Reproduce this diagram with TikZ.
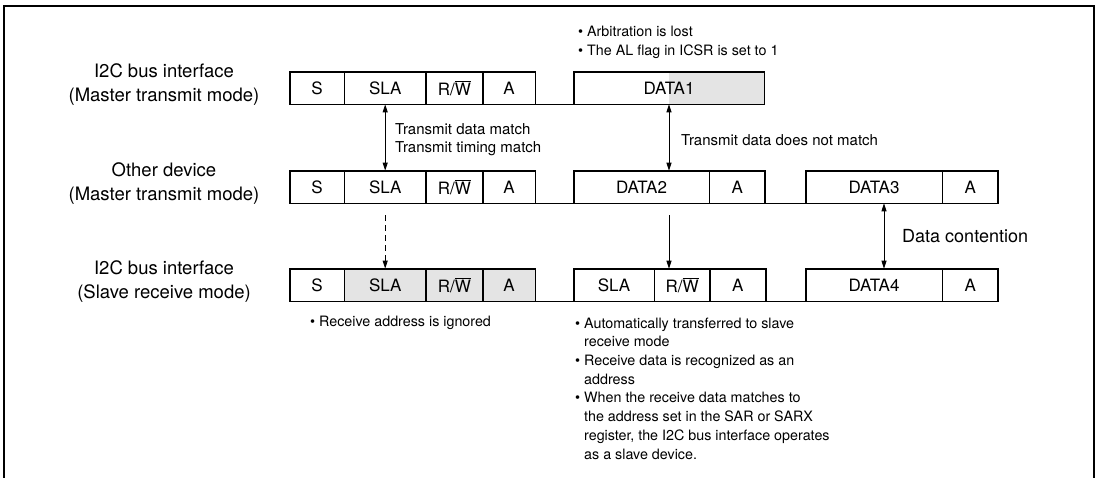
\documentclass[tikz,border=0pt]{standalone}
\usepackage{fontspec}
\setmainfont{TeX Gyre Heros}
\definecolor{cellgray}{RGB}{228,228,228}
\newcommand{\rwbar}{R/$\overline{\mbox{W}}$}
\usetikzlibrary{arrows.meta,positioning,backgrounds}

\begin{document}
\begin{tikzpicture}[x=1pt,y=-1pt,
  cell/.style={draw,line width=0.7pt,minimum height=32,inner sep=0pt,
    font=\fontsize{17}{20}\selectfont},
  busline/.style={line width=1.6pt},
  rowlabel/.style={align=center,inner sep=0pt,font=\fontsize{18.5}{24}\selectfont},
  note/.style={align=left,anchor=west,inner sep=0pt,font=\fontsize{14.3}{18.7}\selectfont},
  arr/.style={line width=0.9pt,-{Triangle[length=8pt,width=5pt]}},
  darr/.style={line width=0.9pt,{Triangle[length=8pt,width=5pt]}-{Triangle[length=8pt,width=5pt]}}
]
  \useasboundingbox (0,0) rectangle (1099,478);
  \draw[busline] (4,480) -- (4,6) -- (1094,6) -- (1094,480);

  % I2C bus interface, master transmit
  \node[rowlabel] (lblMst) at (164,85) {I2C bus interface\\(Master transmit mode)};
  \node[cell,minimum width=54] (mstS) at (317,88) {S};
  \node[cell,minimum width=81,right=0pt of mstS] (mstSLA) {SLA};
  \node[cell,minimum width=56,right=0pt of mstSLA] (mstRW) {\rwbar};
  \node[cell,minimum width=52,right=0pt of mstRW] (mstA) {A};
  \node[cell,minimum width=190] (mstD1) at (669,88) {DATA1};
  \begin{scope}[on background layer]
    \fill[cellgray] (mstD1.north) rectangle (mstD1.south east);
  \end{scope}
  \draw[busline] (mstS.north west) rectangle (mstA.south east)
    (mstA.south east) -- (mstD1.south west);
  \draw[busline] (mstD1.north west) rectangle (mstD1.south east);

  % other device, master transmit
  \node[rowlabel] (lblOth) at (164,183.5) {Other device\\(Master transmit mode)};
  \node[cell,minimum width=54] (othS) at (317,187) {S};
  \node[cell,minimum width=81,right=0pt of othS] (othSLA) {SLA};
  \node[cell,minimum width=56,right=0pt of othSLA] (othRW) {\rwbar};
  \node[cell,minimum width=52,right=0pt of othRW] (othA) {A};
  \node[cell,minimum width=135] (othD2) at (641.5,187) {DATA2};
  \node[cell,minimum width=55,right=0pt of othD2] (othD2A) {A};
  \node[cell,minimum width=136] (othD3) at (874,187) {DATA3};
  \node[cell,minimum width=55,right=0pt of othD3] (othD3A) {A};
  \draw[busline] (othS.north west) rectangle (othA.south east)
    (othA.south east) -- (othD2.south west);
  \draw[busline] (othD2.north west) rectangle (othD2A.south east)
    (othD2A.south east) -- (othD3.south west);
  \draw[busline] (othD3.north west) rectangle (othD3A.south east);

  % I2C bus interface, slave receive
  \node[rowlabel] (lblSlv) at (164,281.5) {I2C bus interface\\(Slave receive mode)};
  \node[cell,minimum width=54] (slvS) at (317,285) {S};
  \node[cell,fill=cellgray,minimum width=81,right=0pt of slvS] (slvSLA) {SLA};
  \node[cell,fill=cellgray,minimum width=56,right=0pt of slvSLA] (slvRW) {\rwbar};
  \node[cell,fill=cellgray,minimum width=52,right=0pt of slvRW] (slvA) {A};
  \node[cell,minimum width=80] (slvSLA2) at (614,285) {SLA};
  \node[cell,minimum width=55,right=0pt of slvSLA2] (slvRW2) {\rwbar};
  \node[cell,minimum width=55,right=0pt of slvRW2] (slvA2) {A};
  \node[cell,minimum width=136] (slvD4) at (874,285) {DATA4};
  \node[cell,minimum width=55,right=0pt of slvD4] (slvD4A) {A};
  \draw[busline] (slvS.north west) rectangle (slvA.south east)
    (slvA.south east) -- (slvSLA2.south west);
  \draw[busline] (slvSLA2.north west) rectangle (slvA2.south east)
    (slvA2.south east) -- (slvD4.south west);
  \draw[busline] (slvD4.north west) rectangle (slvD4A.south east);

  % arrows
  \draw[darr] (mstSLA.south) -- (othSLA.north);
  \draw[arr,dash pattern=on 6pt off 4pt] ([yshift=-12pt]othSLA.south) -- (slvSLA.north);
  \draw[darr] (mstD1.south) -- (mstD1.south |- othD2.north);
  \draw[arr] ([yshift=-12pt]mstD1.south |- othD2.south) -- (mstD1.south |- slvRW2.north);
  \draw[darr] ([xshift=10pt]othD3.south) -- ([xshift=10pt]slvD4.north);

  % notes
  \node[note,font=\fontsize{15}{18}\selectfont] (noteMatch) at (395,140)
    {Transmit data match\\Transmit timing match};
  \node[note,font=\fontsize{15}{18}\selectfont] (noteNoMatch) at (681,140)
    {Transmit data does not match};
  \node[note,font=\fontsize{18}{20}\selectfont] (noteContention) at (902,236)
    {Data contention};
  \node[note] (noteLost) at (578,42)
    {\textbullet\ Arbitration is lost\\\textbullet\ The AL flag in ICSR is set to 1};
  \node[note] (noteIgnored) at (310,323) {\textbullet\ Receive address is ignored};
  \node[note] (noteSlave) at (575,388.5)
    {\textbullet\ Automatically transferred to slave\\
     \hphantom{\textbullet\ }receive mode\\
     \textbullet\ Receive data is recognized as an\\
     \hphantom{\textbullet\ }address\\
     \textbullet\ When the receive data matches to\\
     \hphantom{\textbullet\ }the address set in the SAR or SARX\\
     \hphantom{\textbullet\ }register, the I2C bus interface operates\\
     \hphantom{\textbullet\ }as a slave device.};
\end{tikzpicture}
\end{document}
